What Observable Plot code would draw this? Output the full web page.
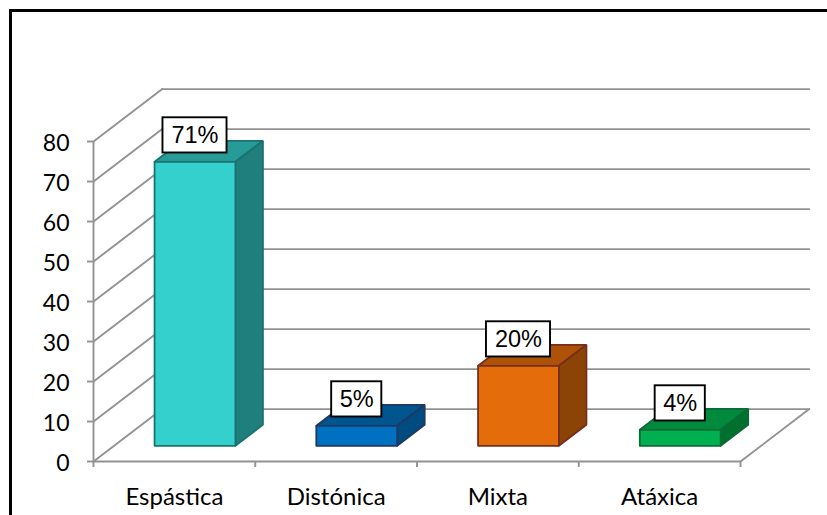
<!DOCTYPE html>
<html>
<head>
<meta charset="utf-8">
<script src="https://cdn.jsdelivr.net/npm/d3@7"></script>
<script src="https://cdn.jsdelivr.net/npm/@observablehq/plot@0.6"></script>
<style>
html,body{margin:0;padding:0;background:#fff;overflow:hidden;width:827px;height:515px}
#frame{position:absolute;left:9px;top:9px;width:900px;height:700px;border:3.5px solid #000;box-sizing:border-box}
#chart{position:absolute;left:0;top:0}
#chart svg{background:transparent;display:block}
</style>
</head>
<body>
<div id="frame"></div>
<div id="chart"></div>
<script>
const categories = ["Espástica", "Distónica", "Mixta", "Atáxica"];
const values = [71, 5, 20, 4];
const labels = ["71%", "5%", "20%", "4%"];
const frontColors = ["#33D0CD", "#0070C0", "#E46C0A", "#00B050"];
const topColors = ["#269B98", "#00558F", "#AD5207", "#008A3E"];
const sideColors = ["#1F7F7C", "#004B80", "#8C4306", "#00702F"];
const edgeColors = ["#1B7270", "#1F3864", "#762E1E", "#0B6B35"];
const yTicks = [0, 10, 20, 30, 40, 50, 60, 70, 80];
const xTicks = [0, 1, 2, 3, 4];
const barStart = 0.25, barEnd = 0.75;
const depthStart = 0.3, depthEnd = 0.7;
const depthX = 0.425, depthY = 13.1;

// oblique projection: u = category units, v = value, d = depth 0..1
const P = (u, v, d) => ({x: u + d * depthX, y: v + d * depthY});
const poly = (pts) => { const a = pts.map(([u, v, d]) => P(u, v, d)); a.push(a[0]); return a; };
const seg = (a, b) => [P(...a), P(...b)];

const gridStyle = {x: "x", y: "y", stroke: "#929292", strokeWidth: 1.9};
const wall = yTicks.flatMap((t) => [
  Plot.line(seg([0, t, 0], [0, t, 1]), gridStyle),
  Plot.line(seg([0, t, 1], [4, t, 1]), gridStyle)
]);
const floor = [
  Plot.line(seg([4, 0, 0], [4, 0, 1]), gridStyle),
  Plot.ruleY([0], {stroke: "#929292", strokeWidth: 2}),
  Plot.ruleX([0], {stroke: "#929292", strokeWidth: 1.9})
];

const bars = values.flatMap((v, i) => {
  const a = i + barStart, b = i + barEnd;
  const edge = {x: "x", y: "y", stroke: edgeColors[i], strokeWidth: 1.8, strokeLinejoin: "miter"};
  return [
    Plot.line(poly([[a, v, depthStart], [b, v, depthStart], [b, v, depthEnd], [a, v, depthEnd]]), {...edge, fill: topColors[i]}),
    Plot.line(poly([[b, 0, depthStart], [b, v, depthStart], [b, v, depthEnd], [b, 0, depthEnd]]), {...edge, fill: sideColors[i]}),
    Plot.line(poly([[a, 0, depthStart], [b, 0, depthStart], [b, v, depthStart], [a, v, depthStart]]), {...edge, fill: frontColors[i]})
  ];
});

const labelRows = values.map((v, i) => {
  const c = P(i + 0.5, v, depthStart);
  const halfW = labels[i].length === 3 ? 0.198 : 0.155;
  return {x1: c.x - halfW, x2: c.x + halfW, y1: v + depthStart * depthY + 2.2, y2: v + depthStart * depthY + 11, cx: c.x, cy: v + depthStart * depthY + 6.6, label: labels[i]};
});

const chart = Plot.plot({
  width: 827,
  height: 515,
  marginLeft: 93,
  marginRight: 87,
  marginTop: 141,
  marginBottom: 54,
  style: {background: "transparent", overflow: "visible"},
  x: {domain: [0, 4], axis: null},
  y: {domain: [0, 80], axis: null},
  marks: [
    ...wall,
    ...floor,
    Plot.axisY({ticks: yTicks, anchor: "left", label: null, tickSize: 6, tickFormat: () => "", stroke: "#929292", strokeWidth: 1.9}),
    Plot.axisY({ticks: yTicks, anchor: "left", label: null, tickSize: 0, tickPadding: 24, dy: 2, color: "#000", fontSize: 23, fontFamily: "Lato", fontWeight: 400, tickFormat: (d) => String(d)}),
    Plot.axisX({ticks: xTicks, anchor: "bottom", label: null, tickSize: 6, tickFormat: () => "", stroke: "#929292", strokeWidth: 1.9}),
    Plot.axisX({ticks: categories.map((c, i) => i + 0.5), anchor: "bottom", label: null, tickSize: 0, tickPadding: 26, tickFormat: (d) => categories[Math.floor(d)], color: "#000", fontSize: 24, fontFamily: "Lato", fontWeight: 400}),
    ...bars,
    Plot.rect(labelRows, {x1: "x1", x2: "x2", y1: "y1", y2: "y2", fill: "#fff", stroke: "#000", strokeWidth: 1.9}),
    Plot.text(labelRows, {x: "cx", y: "cy", text: "label", fontSize: 23.5, fontFamily: "Liberation Sans", fill: "#000", lineAnchor: "middle", dy: 0.5}),
  ]
});
document.getElementById("chart").appendChild(chart);
</script>
</body>
</html>
